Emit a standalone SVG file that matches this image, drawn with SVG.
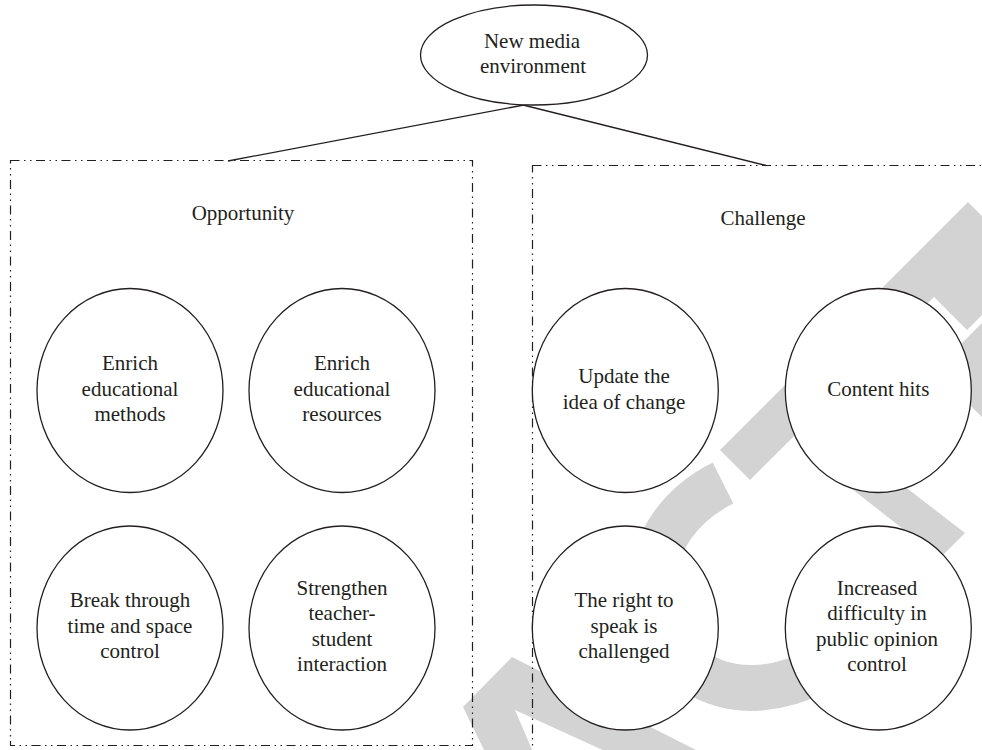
<svg xmlns="http://www.w3.org/2000/svg" width="982" height="750" viewBox="0 0 982 750">
<style>
  .wm { fill: #d3d3d3; stroke: none; }
  .wmline { fill: none; stroke: #d3d3d3; stroke-width: 46; }
  .node { fill: #ffffff; stroke: #231f20; stroke-width: 1.3; }
  .box { fill: none; stroke: #231f20; stroke-width: 1.2; stroke-dasharray: 9 4.5 1.5 4.5 1.5 4.5; }
  .conn { fill: none; stroke: #231f20; stroke-width: 1.3; }
  text { font-family: "Liberation Serif", "Times New Roman", serif; font-size: 21px; fill: #231f20; text-anchor: middle; }
</style>
<rect x="0" y="0" width="982" height="750" fill="#ffffff"/>

<g id="watermark">
  <polygon class="wm" points="720,450 968,202 982,216 982,315 967,330 934,297 750,480"/>
  <polygon class="wm" points="955,350 982,323 982,417 930,366"/>
  <polygon class="wm" points="810,456 860,452 965,533 940,558"/>
  <path class="wmline" d="M723,483 C683,503 652,540 652,590 C652,650 700,690 755,688 C780,687 800,680 820,670"/>
  <polygon class="wm" points="463,707 512,657 700,752 607,752 515,710 533,752 485,752"/>
</g>

<g id="connectors">
  <line class="conn" x1="529" y1="104" x2="228" y2="161"/>
  <line class="conn" x1="519" y1="104" x2="766" y2="165.5"/>
</g>

<g id="box-opportunity">
  <rect class="box" x="10.5" y="160.5" width="462" height="585"/>
  <text x="243" y="220">Opportunity</text>
</g>

<g id="box-challenge">
  <rect class="box" x="532.5" y="165.5" width="500" height="600"/>
  <text x="763" y="225">Challenge</text>
</g>

<g id="node-root">
  <ellipse class="node" cx="534" cy="55" rx="113.5" ry="50"/>
  <text x="532" y="48">New media</text>
  <text x="533" y="73">environment</text>
</g>

<g id="node-enrich-methods">
  <ellipse class="node" cx="130" cy="390.5" rx="93" ry="102"/>
  <text x="130" y="370">Enrich</text>
  <text x="130" y="395.5">educational</text>
  <text x="130" y="420.5">methods</text>
</g>

<g id="node-enrich-resources">
  <ellipse class="node" cx="342" cy="390.5" rx="93" ry="102"/>
  <text x="342" y="370">Enrich</text>
  <text x="342" y="395.5">educational</text>
  <text x="342" y="420.5">resources</text>
</g>

<g id="node-break-through">
  <ellipse class="node" cx="130" cy="628" rx="93" ry="102"/>
  <text x="130" y="607">Break through</text>
  <text x="130" y="633">time and space</text>
  <text x="130" y="658">control</text>
</g>

<g id="node-strengthen">
  <ellipse class="node" cx="342" cy="628" rx="93" ry="102"/>
  <text x="342" y="595">Strengthen</text>
  <text x="342" y="620">teacher-</text>
  <text x="342" y="645.5">student</text>
  <text x="342" y="670.5">interaction</text>
</g>

<g id="node-update-idea">
  <ellipse class="node" cx="625.3" cy="390.5" rx="93" ry="102"/>
  <text x="624" y="383">Update the</text>
  <text x="624" y="409">idea of change</text>
</g>

<g id="node-content-hits">
  <ellipse class="node" cx="878.3" cy="390.5" rx="93" ry="102"/>
  <text x="878.3" y="395.5">Content hits</text>
</g>

<g id="node-right-to-speak">
  <ellipse class="node" cx="625.3" cy="628" rx="93" ry="102"/>
  <text x="624" y="607">The right to</text>
  <text x="624" y="633">speak is</text>
  <text x="624" y="658">challenged</text>
</g>

<g id="node-public-opinion">
  <ellipse class="node" cx="878.3" cy="628" rx="93" ry="102"/>
  <text x="877" y="595">Increased</text>
  <text x="877" y="620">difficulty in</text>
  <text x="877" y="646">public opinion</text>
  <text x="877" y="671">control</text>
</g>
</svg>
